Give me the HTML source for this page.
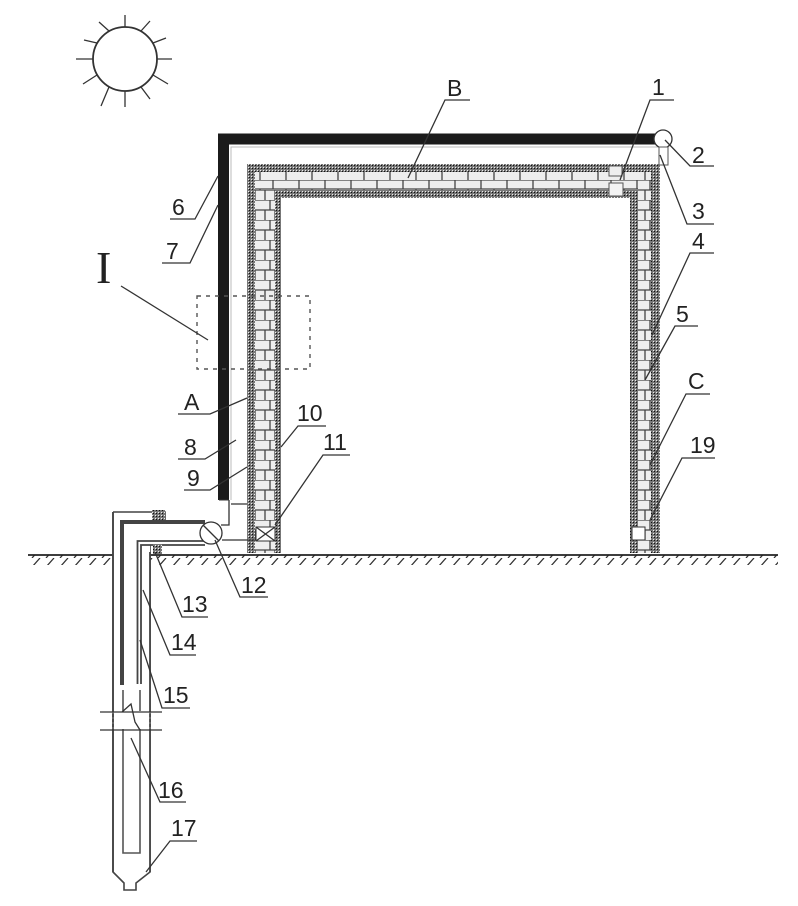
<!DOCTYPE html>
<html><head><meta charset="utf-8"><style>
html,body{margin:0;padding:0;background:#fff}
svg{display:block;filter:blur(.35px)}
text{font-family:"Liberation Sans",sans-serif;font-size:23px;fill:#222}
.l{fill:none;stroke:#333;stroke-width:1.3}
</style></head><body>
<svg width="798" height="906" viewBox="0 0 798 906" xmlns="http://www.w3.org/2000/svg">
<defs>
<pattern id="h" width="3" height="3" patternUnits="userSpaceOnUse"><rect width="3" height="3" fill="#777"/><rect width="1" height="1" fill="#111"/><rect x="2" y="2" width="1" height="1" fill="#eee"/></pattern>
<pattern id="bv" width="20" height="20" patternUnits="userSpaceOnUse"><rect width="20" height="20" fill="#eee"/><path d="M0 0H20M0 10H20M10 0V10M5 10V20M15 10V20" stroke="#444" stroke-width="1.3" fill="none"/></pattern>
<pattern id="bh" width="26" height="18" patternUnits="userSpaceOnUse"><rect width="26" height="18" fill="#eee"/><path d="M0 0H26M0 9H26M13 0V9M0 9V18M26 9V18" stroke="#444" stroke-width="1.3" fill="none"/></pattern>
<pattern id="g" width="14" height="9" patternUnits="userSpaceOnUse"><path d="M12 0L4 9" stroke="#333" stroke-width="1.3"/></pattern>
</defs>
<rect width="798" height="906" fill="#fff"/>
<!-- sun -->
<circle cx="125" cy="59" r="32" fill="#fff" stroke="#333" stroke-width="1.8"/>
<path class="l" d="M125 27V15M141 31L150 21M153 43L166 38M157 59H172M153 75L168 84M141 87L150 99M125 91V107M109 87L101 106M97 75L83 84M93 59H76M97 43L84 40M109 31L99 22"/>
<!-- black collector -->
<path d="M223.500 500V139H655" fill="none" stroke="#1b1b1b" stroke-width="11"/>
<path d="M231 500V147H660" fill="none" stroke="#bbb" stroke-width="1"/>
<path d="M219 500H229" stroke="#333" fill="none"/>
<!-- walls: brick fill -->
<rect x="247" y="164" width="34" height="389" fill="url(#h)"/>
<rect x="247" y="164" width="413" height="34" fill="url(#h)"/>
<rect x="630" y="164" width="30" height="389" fill="url(#h)"/>
<rect x="255" y="172" width="20" height="381" fill="url(#bv)"/>
<rect x="255" y="172" width="396" height="18" fill="url(#bh)"/>
<rect x="638" y="172" width="13" height="381" fill="url(#bv)"/>
<rect x="281" y="198" width="349" height="355" fill="#fff"/>
<!-- wall bottom vents -->
<rect x="256" y="527" width="19" height="14" fill="#fff" stroke="#333"/>
<path class="l" d="M256 527L275 541M275 527L256 541"/>
<rect x="632" y="527" width="13" height="13" fill="#fff" stroke="#333"/>
<rect x="609" y="166" width="13" height="10" fill="#eee" stroke="#555"/>
<rect x="609" y="183" width="14" height="13" fill="#f4f4f4" stroke="#555"/>
<!-- top right -->
<circle cx="663" cy="139" r="9" fill="#fff" stroke="#333" stroke-width="1.3"/>
<rect x="659" y="147" width="9" height="18" fill="#fff" stroke="#555"/>
<!-- dashed I box -->
<rect x="197" y="296" width="113" height="73" fill="none" stroke="#555" stroke-width="1.4" stroke-dasharray="4 5"/>
<path d="M121 286L208 340" stroke="#333" stroke-width="1.3"/>
<text x="96" y="283" style="font-family:'Liberation Serif',serif;font-size:46px">I</text>
<!-- ground -->
<rect x="28" y="555" width="750" height="10" fill="url(#g)"/>
<path d="M28 555H778" stroke="#222" stroke-width="1.8"/>
<!-- connections base -->
<path class="l" d="M229 500V525H221M231 504H247M222 540H256"/>
<!-- well -->
<path d="M113 512H165V522M113 512V872L124 883V890H136V883L150 872V545" fill="#fff" stroke="#444" stroke-width="1.6"/>
<rect x="114" y="513" width="36" height="358" fill="#fff"/>
<path d="M113 512V872M150 552V872" stroke="#444" stroke-width="1.8"/>
<rect x="152" y="510" width="13" height="12" fill="url(#h)"/>
<path d="M122 685V522H205" fill="none" stroke="#444" stroke-width="4"/>
<path d="M137.500 684V541H205M141 684V545H205" fill="none" stroke="#444" stroke-width="1.8"/>
<path d="M123 690V853H140V690" fill="none" stroke="#555" stroke-width="1.6"/>
<rect x="153" y="544" width="9" height="10" fill="url(#h)"/>
<circle cx="211" cy="533" r="11" fill="#fff" stroke="#333" stroke-width="1.3"/>
<path class="l" d="M203 525L219 541"/>
<!-- break marks -->
<rect x="114" y="711" width="35" height="18" fill="#fff"/>
<path class="l" d="M100 712H162M100 730H162M122 712L131 704L135 722L140 730"/>
<path d="M113 712V730M150 712V730" stroke="#777" stroke-dasharray="2 3"/>
<!-- leader lines and labels -->
<path class="l" d="M408 178L445 100H470"/><text x="447" y="96">B</text>
<path class="l" d="M620 180L650 100H674"/><text x="652" y="95">1</text>
<path class="l" d="M665 140L690 166H714"/><text x="692" y="163">2</text>
<path class="l" d="M660 155L687 224H714"/><text x="692" y="219">3</text>
<path class="l" d="M652 335L690 253H714"/><text x="692" y="249">4</text>
<path class="l" d="M645 380L675 326H698"/><text x="676" y="322">5</text>
<path class="l" d="M650 465L686 394H710"/><text x="688" y="389">C</text>
<path class="l" d="M650 520L682 458H715"/><text x="690" y="453">19</text>
<path class="l" d="M218 176L195 219H170"/><text x="172" y="215">6</text>
<path class="l" d="M218 205L190 263H162"/><text x="166" y="259">7</text>
<path class="l" d="M247 398L210 414H178"/><text x="184" y="410">A</text>
<path class="l" d="M236 440L205 459H178"/><text x="184" y="455">8</text>
<path class="l" d="M247 467L210 490H184"/><text x="187" y="486">9</text>
<path class="l" d="M281 447L298 426H326"/><text x="297" y="421">10</text>
<path class="l" d="M275 525L323 455H350"/><text x="323" y="450">11</text>
<path class="l" d="M215 540L240 597H268"/><text x="241" y="593">12</text>
<path class="l" d="M155 552L182 617H208"/><text x="182" y="612">13</text>
<path class="l" d="M143 590L170 655H196"/><text x="171" y="650">14</text>
<path class="l" d="M140 640L162 708H190"/><text x="163" y="703">15</text>
<path class="l" d="M131 738L160 802H186"/><text x="158" y="798">16</text>
<path class="l" d="M146 872L170 841H197"/><text x="171" y="836">17</text>
</svg>
</body></html>
